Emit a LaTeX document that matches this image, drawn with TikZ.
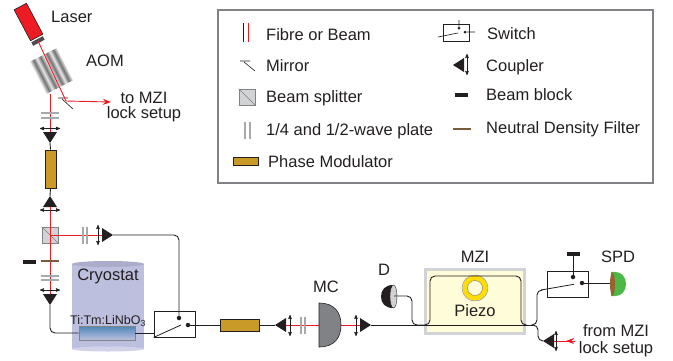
\documentclass[tikz,border=0pt]{standalone}
\usepackage{fontspec}
\setmainfont{Liberation Sans}
\usetikzlibrary{arrows,arrows.meta,shapes.geometric}
\definecolor{ink}{HTML}{231F20}
\definecolor{beamred}{HTML}{ED1C24}
\definecolor{gold}{HTML}{C99A27}
\definecolor{ndbrown}{HTML}{7A5C3A}
\definecolor{plategray}{HTML}{A7A9AC}
\definecolor{bsgray}{HTML}{D1D3D4}
\definecolor{mcgray}{HTML}{808285}
\definecolor{cryoblue}{HTML}{BDBFDF}
\definecolor{spdgreen}{HTML}{4DB848}
\tikzset{
	lbl/.style={font=\fontsize{16.5}{19}\selectfont,text=ink,inner sep=0pt,yshift=-0.8pt},
	fibre/.style={draw=ink,line width=0.9pt,rounded corners=5pt},
	beam/.style={draw=beamred,line width=0.9pt},
	redtip/.style={-{Stealth[length=8pt,width=6pt]}},
	coupler/.style={isosceles triangle,isosceles triangle stretches,fill=ink,inner sep=0pt,outer sep=0pt,minimum height=11pt,minimum width=14pt,anchor=apex},
	adj/.style={<->,draw=ink,line width=0.6pt},
	hplate/.style={fill=plategray,inner sep=0pt,minimum width=18pt,minimum height=1.3pt},
	vplate/.style={fill=plategray,inner sep=0pt,minimum width=1.3pt,minimum height=17pt},
	block/.style={fill=ink,inner sep=0pt,minimum width=13pt,minimum height=4pt},
	pmod/.style={draw=ink,fill=gold,line width=0.9pt,inner sep=0pt},
	swbox/.style={draw=ink,line width=0.8pt,inner sep=0pt},
	dot/.style={circle,fill=ink,inner sep=0pt,minimum size=4.5pt},
	bsplit/.style={draw=mcgray,fill=bsgray,line width=0.7pt,inner sep=0pt,minimum size=16pt}
}
\begin{document}
\begin{tikzpicture}[x=1pt,y=-1pt,>=stealth']
	\useasboundingbox (0,0) rectangle (673,360);

	% legend
	\draw[draw=mcgray,line width=1.1pt] (218,10) rectangle (653,183);
	\draw[ink,line width=0.8pt] (243,23) -- (243,42);
	\draw[beamred,line width=0.8pt] (248,23) -- (248,42);
	\node[lbl,anchor=west] at (266,34) {Fibre or Beam};
	\draw[ink,line width=0.6pt] (240,61) -- (250,61) (244,62) -- (255,71);
	\node[lbl,anchor=west] at (266,65) {Mirror};
	\node[bsplit] (lbs) at (247,97) {};
	\draw[mcgray,line width=0.5pt] (lbs.north west) -- (lbs.south east);
	\node[lbl,anchor=west] at (266,97) {Beam splitter};
	\node[vplate] at (245,130) {};
	\node[vplate] at (250,130) {};
	\node[lbl,anchor=west] at (266,130) {1/4 and 1/2-wave plate};
	\node[pmod,minimum width=25pt,minimum height=8pt] at (245.5,161.5) {};
	\node[lbl,anchor=west] at (268,161) {Phase Modulator};
	\node[swbox,minimum width=26pt,minimum height=17pt] (lsw) at (456,32.5) {};
	\node[dot,minimum size=3pt] (lsa) at (459,28) {};
	\node[dot,minimum size=3pt] (lsb) at (465,32) {};
	\draw[ink,line width=0.6pt] (438,37) -- (458,33) (459,20) -- (lsa) (lsb) -- (475,32);
	\node[lbl,anchor=west] at (487,33) {Switch};
	\node[coupler,shape border rotate=180] at (453,65) {};
	\draw[adj] (467,54) -- (467,75);
	\node[lbl,anchor=west] at (486,66) {Coupler};
	\node[block] at (461.5,95) {};
	\node[lbl,anchor=west] at (486,94) {Beam block};
	\node[inner sep=0pt,fill=ndbrown,minimum width=18pt,minimum height=1.6pt] at (462,129) {};
	\node[lbl,anchor=west] at (486,128) {Neutral Density Filter};

	% laser and AOM
	\begin{scope}[transform canvas={shift={(51.5,71)},rotate=-63}]
		\fill[black!10] (-18,-14.8) rectangle (18,14.8);
		\foreach \s in {-11.1,-3.7,3.7,11.1}
			\shade[top color=black!10,bottom color=black!10,middle color=black!55] (-18,\s-3.7) rectangle (18,\s+3.7);
	\end{scope}
	\node[draw=ink,fill=beamred,line width=0.6pt,minimum width=35pt,minimum height=14pt,inner sep=0pt,rotate=-62] (laser) at (28.5,22) {};
	\node[fill=ink!80,minimum width=4pt,minimum height=13pt,inner sep=0pt,rotate=-62] (lcap) at (38,41) {};
	\node[lbl,anchor=west] at (51,16) {Laser};
	\node[lbl,anchor=west] at (86,60) {AOM};
	\coordinate (mirror) at (66,101);
	\coordinate (aomout) at (50,94);
	\coordinate (tomzi) at (111,102);
	\draw[ink,line width=0.6pt] (58,98) -- (68,98) (62,99) -- (73,109);
	\draw[beam] (lcap.center) -- (mirror);
	\draw[beam,redtip] (mirror) -- (tomzi);
	\node[lbl,align=center,font=\fontsize{16.5}{15}\selectfont] at (144,106) {to MZI\\lock setup};

	% left column
	\node[coupler,shape border rotate=-90] (cone) at (50,143) {};
	\node[coupler,shape border rotate=90] (ctwo) at (50,196) {};
	\node[coupler,shape border rotate=-90] (cthree) at (50,305) {};
	\node[pmod,minimum width=11pt,minimum height=38pt] (pmone) at (50.5,169) {};
	\node[bsplit] (bs) at (50,235) {};
	\draw[beam] (aomout) -- (cone.lower side);
	\draw[fibre] (cone.apex) -- (pmone.north);
	\draw[fibre] (pmone.south) -- (ctwo.apex);
	\draw[beam] (ctwo.lower side) -- (cthree.lower side);
	\draw[mcgray,line width=0.5pt] (bs.north west) -- (bs.south east);
	\foreach \y in {113,118,276,280}
		\node[hplate] at (50,\y) {};
	\foreach \y in {128.5,210,290}
		\draw[adj] (40,\y) -- (60,\y);
	\node[inner sep=0pt,fill=ndbrown,minimum width=18pt,minimum height=2pt] at (50,261) {};
	\node[block] at (29.5,262) {};

	% upper arm to switch
	\node[coupler,shape border rotate=0] (cfour) at (113,235) {};
	\draw[beam] (bs.center) -- (cfour.lower side);
	\node[vplate] at (83,235) {};
	\node[vplate] at (87,235) {};
	\draw[adj] (98,225) -- (98,245);

	% cryostat
	\fill[cryoblue] (72,264) rectangle (144,349);
	\fill[cryoblue!90!black] (108,264) ellipse [x radius=36,y radius=3];
	\fill[cryoblue!70!white] (108,349) ellipse [x radius=36,y radius=2.5];
	\node[lbl] at (108,275.5) {Cryostat};
	\node[lbl,font=\fontsize{12.5}{14}\selectfont] at (108,320) {Ti:Tm:LiNbO\textsubscript{3}};
	\node[draw=mcgray,line width=0.8pt,top color=blue!45!cyan!60!black!70,bottom color=cryoblue,minimum width=56pt,minimum height=14pt,inner sep=0pt] (sample) at (107,333) {};

	% switch and fibre line
	\node[swbox,minimum width=41pt,minimum height=26pt] (swone) at (174.5,324) {};
	\node[dot] (swa) at (179,318) {};
	\node[dot] (swb) at (188,325) {};
	\coordinate (swarm) at (181,325);
	\node[pmod,minimum width=39pt,minimum height=12pt] (pmtwo) at (239.5,325) {};
	\draw[fibre] (cthree.apex) |- (sample.west);
	\draw[fibre] (sample.east) -- (swone.west |- sample.east);
	\draw[fibre] (cfour.apex) -| (swa);
	\draw[ink,line width=0.8pt] (swone.south west) -- (swarm);
	\draw[fibre] (swb) -- (pmtwo.west);

	% MC
	\coordinate (mcl) at (319,325);
	\coordinate (mcr) at (341,325);
	\node[coupler,shape border rotate=180] (cfive) at (275,325) {};
	\node[coupler,shape border rotate=0] (csix) at (371,325) {};
	\draw[fibre] (pmtwo.east) -- (cfive.apex);
	\draw[beam] (cfive.lower side) -- (mcl);
	\draw[beam] (mcr) -- (csix.lower side);
	\draw[draw=ink,fill=mcgray,line width=0.6pt] (319,303) .. controls (335,303) and (341,313) .. (341,325) .. controls (341,337) and (335,347) .. (319,347) -- cycle;
	\draw[adj] (290,315) -- (290,336);
	\draw[adj] (356,315) -- (356,336);
	\node[vplate] at (301,325.5) {};
	\node[vplate] at (305,325.5) {};
	\node[lbl] at (326,286) {MC};

	% detector D
	\fill[ink] (393,285) .. controls (385,285) and (381,290) .. (381,296.5) .. controls (381,303) and (385,308) .. (393,308) -- cycle;
	\draw[fill=bsgray,draw=ink,line width=0.4pt] (393.5,296.5) ellipse [x radius=3.5,y radius=11.5];
	\node[lbl] at (384,269) {D};

	% MZI
	\node[draw=bsgray,fill=yellow!15,line width=3pt,minimum width=99pt,minimum height=64pt,inner sep=0pt] (mzi) at (474.5,301) {};
	\node[lbl] at (475,256) {MZI};
	\draw[draw=yellow!80!orange,fill=white!85!yellow,line width=5pt] (475,288) circle (10);
	\draw[draw=ink!60,line width=0.4pt] (475,288) circle (13) (475,288) circle (7.5);
	\node[lbl] at (475,310) {Piezo};
	\coordinate (split) at (533,325);
	\coordinate (mzil) at (425,325);
	\coordinate (mzir) at (527,325);
	\coordinate (dface) at (394,296);
	\coordinate (dturn) at (412,325);
	\coordinate (tlc) at (430,276);
	\coordinate (trc) at (521,276);
	\draw[fibre] (dface) -| (dturn) -- (mzil);
	\draw[fibre] (csix.apex) -- (split);
	\draw[fibre] (mzil) -| (tlc) -- (trc) |- (mzir);

	% right side
	\node[swbox,minimum width=41pt,minimum height=26pt] (swtwo) at (567.5,284) {};
	\node[dot] (swc) at (573,277) {};
	\node[dot] (swd) at (582,283) {};
	\node[block] (bbtwo) at (573,254) {};
	\coordinate (armtip) at (574,284.3);
	\coordinate (armend) at (541,290);
	\draw[fibre] (bbtwo) -- (swc);
	\draw[fibre] (split) -| (537,290) -- (armend);
	\draw[ink,line width=0.8pt] (armend) -- (armtip);
	\fill[spdgreen] (611,272) .. controls (622,271) and (626,277) .. (626,284) .. controls (626,291) and (622,297) .. (611,296) -- cycle;
	\fill[ndbrown!80!orange] (612.5,284) ellipse [x radius=2.5,y radius=11.5];
	\coordinate (spd) at (610,283);
	\draw[fibre] (swd) -- (spd);
	\node[lbl] at (618,256) {SPD};

	\node[coupler,shape border rotate=180] (cseven) at (543,341) {};
	\coordinate (frommzi) at (575,341);
	\coordinate (fromtip) at (566,341);
	\draw[fibre] (split) -| (538,341) -- (cseven.apex);
	\draw[beam] (frommzi) -- (cseven.lower side);
	\draw[beam,redtip] (frommzi) -- (fromtip);
	\draw[adj] (556,331) -- (556,351);
	\node[lbl,align=center,font=\fontsize{16.5}{17}\selectfont] at (616,339.5) {from MZI\\lock setup};
\end{tikzpicture}
\end{document}
